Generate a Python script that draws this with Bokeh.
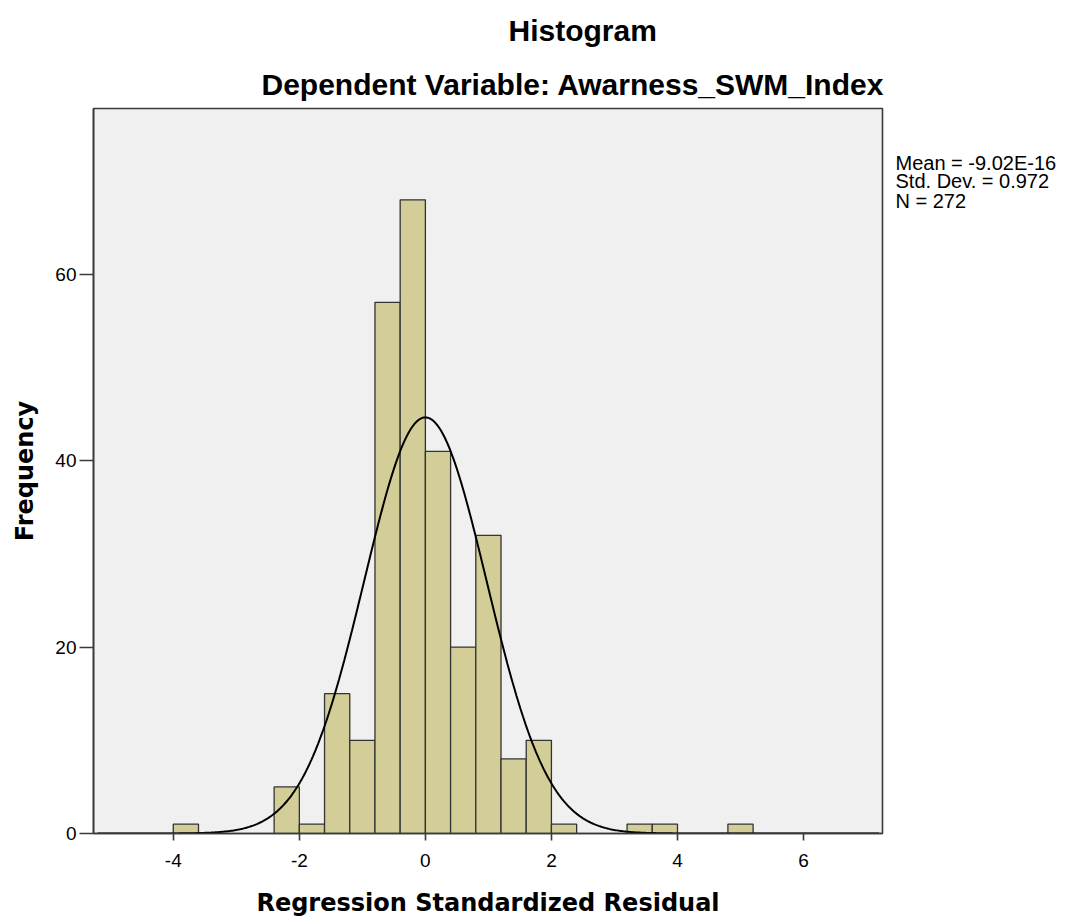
import numpy as np
from bokeh.plotting import figure
from bokeh.models import FixedTicker, Range1d, ColumnDataSource, Title, LinearAxis
from bokeh.embed import file_html
from bokeh.resources import INLINE

# ---- data ----
bin_left = [-4.0, -3.6, -3.2, -2.8, -2.4, -2.0, -1.6, -1.2, -0.8, -0.4, 0.0, 0.4,
            0.8, 1.2, 1.6, 2.0, 2.4, 2.8, 3.2, 3.6, 4.0, 4.4, 4.8]
counts = [1, 0, 0, 0, 5, 1, 15, 10, 57, 68, 41, 20,
          32, 8, 10, 1, 0, 0, 1, 1, 0, 0, 1]
bin_width = 0.4
x_ticks = [-4, -2, 0, 2, 4, 6]
y_ticks = [0, 20, 40, 60]
stat_mean = -9.02e-16
stat_sd = 0.972
stat_n = 272
stats_lines = ["Mean = -9.02E-16", "Std. Dev. = 0.972", "N = 272"]
title_main = "Histogram"
title_sub = "Dependent Variable: Awarness_SWM_Index"
x_label = "Regression Standardized Residual"
y_label = "Frequency"

# ---- figure ----
FRAME_L, FRAME_T, FRAME_W, FRAME_H = 93, 107, 789, 726
W, H = 1065, 920
Y_MAX = 77.8
p = figure(width=W, height=H, output_backend="svg", toolbar_location=None, title=None,
           x_range=Range1d(-5.266, 7.253), y_range=Range1d(0, Y_MAX),
           min_border_left=FRAME_L, min_border_top=FRAME_T,
           min_border_right=W - FRAME_L - FRAME_W,
           min_border_bottom=H - FRAME_T - FRAME_H)
p.background_fill_color = "#F0F0F0"
p.border_fill_color = "white"
p.outline_line_color = "#3a3a3a"
p.outline_line_width = 1.6
p.xgrid.visible = False
p.ygrid.visible = False

lefts = [l for l, c in zip(bin_left, counts) if c > 0]
tops = [c for c in counts if c > 0]
src = ColumnDataSource(dict(left=lefts, right=[l + bin_width for l in lefts],
                            top=tops, bottom=[0] * len(tops)))
p.quad(left="left", right="right", top="top", bottom="bottom", source=src,
       fill_color="#D3CE97", line_color="#333333", line_width=1.3)

xs = np.linspace(-5.2, 7.2, 600)
ys = stat_n * bin_width * np.exp(-0.5 * ((xs - stat_mean) / stat_sd) ** 2) / (stat_sd * np.sqrt(2 * np.pi))
p.line(xs, ys, line_color="black", line_width=2)

for ax, ticks, tout, stand in ((p.xaxis, x_ticks, 7, 13), (p.yaxis, y_ticks, 14, 3)):
    ax.ticker = FixedTicker(ticks=ticks)
    ax.major_label_overrides = {t: str(t) for t in ticks}
    ax.major_tick_out = tout
    ax.major_tick_in = 0
    ax.minor_tick_line_color = None
    ax.major_tick_line_color = "#3a3a3a"
    ax.major_tick_line_width = 1.6
    ax.axis_line_color = "#3a3a3a"
    ax.axis_line_width = 1.6
    ax.major_label_text_font = "Liberation Sans"
    ax.major_label_text_font_size = "19px"
    ax.major_label_text_color = "black"
    ax.major_label_standoff = stand
    ax.axis_label_text_font = "DejaVu Sans"
    ax.axis_label_text_font_size = "24px"
    ax.axis_label_text_font_style = "bold"
    ax.axis_label_text_color = "black"

p.xaxis.axis_label = x_label
p.xaxis.axis_label_standoff = 19
p.yaxis.axis_label = y_label
p.yaxis.axis_label_standoff = 13

# statistics block on the right, as left-aligned labels next to the frame
px_per_unit = FRAME_H / Y_MAX
stat_baselines = [168.3, 187.0, 206.5]          # px from figure top
stat_pos = [(FRAME_T + FRAME_H - (b - 7.0)) / px_per_unit for b in stat_baselines]
stats_axis = LinearAxis(ticker=FixedTicker(ticks=stat_pos),
                        major_label_overrides={v: t for v, t in zip(stat_pos, stats_lines)},
                        axis_line_color=None, major_tick_line_color=None,
                        minor_tick_line_color=None, major_label_standoff=7,
                        major_label_text_font="Liberation Sans",
                        major_label_text_font_size="20px",
                        major_label_text_color="black")
p.add_layout(stats_axis, "right")

# titles
t_sub = Title(text=title_sub, align="left", offset=168, text_font="Liberation Sans",
              text_font_size="30px", text_font_style="bold", text_color="black",
              standoff=16)
t_main = Title(text=title_main, align="left", offset=415, text_font="Liberation Sans",
               text_font_size="30px", text_font_style="bold", text_color="black",
               standoff=22)
p.add_layout(t_sub, "above")
p.add_layout(t_main, "above")

open("out.html", "w").write(file_html(p, INLINE))
